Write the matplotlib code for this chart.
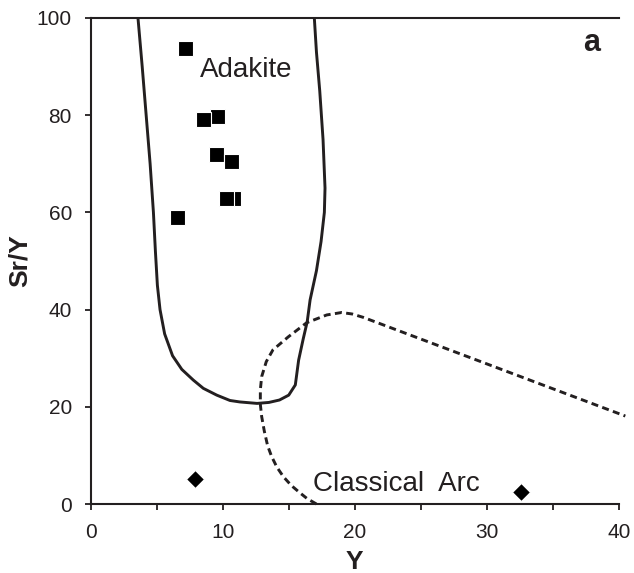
import matplotlib
matplotlib.use("Agg")
import matplotlib.pyplot as plt
from matplotlib.ticker import MultipleLocator

plt.rcParams['font.family'] = ['Liberation Sans', 'DejaVu Sans']

INK = '#231f20'

# Adakite samples (squares), drawn back to front
adakite_y = [10.8, 10.25, 9.55, 8.53, 9.49, 10.63, 7.14, 6.52]
adakite_sry = [62.9, 62.9, 79.8, 79.2, 72.0, 70.6, 93.8, 59.1]

# Classical arc samples (diamonds)
arc_y = [7.9, 32.6]
arc_sry = [5.1, 2.5]

# Adakite field boundary (solid)
adakite_field_x = [3.58, 3.9, 4.2, 4.5, 4.75, 4.9, 5.05, 5.25, 5.6, 6.2, 6.9, 7.77,
                   8.53, 9.55, 10.55, 11.3, 12.6, 13.5, 14.3, 15.0, 15.5, 15.75,
                   16.1, 16.4, 16.62, 17.1, 17.45, 17.7, 17.75, 17.6, 17.35, 17.1, 16.94]
adakite_field_y = [100, 90, 80, 70, 60, 52, 45, 40, 35, 30.5, 27.7, 25.5,
                   23.8, 22.4, 21.3, 21.0, 20.7, 20.9, 21.4, 22.4, 24.5, 29.6,
                   34.0, 37.5, 42.0, 48.0, 54.0, 60.0, 65.0, 75.0, 85.0, 93.0, 100]

# Classical arc field boundary (dashed)
arc_field_x = [17.1, 16.4, 15.85, 15.2, 14.6, 14.1, 13.7, 13.4, 13.15, 12.95, 12.85,
               12.85, 12.95, 13.3, 13.8, 14.97, 16.36, 17.88, 19.0, 19.8, 20.65, 40.5]
arc_field_y = [0.0, 1.1, 2.3, 3.8, 5.6, 7.6, 9.8, 12.0, 15.0, 18.0, 20.5,
               23.5, 26.2, 29.3, 31.7, 34.4, 37.3, 38.9, 39.4, 39.1, 38.4, 18.1]

fig = plt.figure(figsize=(6.34, 5.73), dpi=100)
ax = fig.add_axes([0.1431, 0.1204, 0.8328, 0.8482])

ax.plot(adakite_field_x, adakite_field_y, color=INK, lw=2.1,
        solid_joinstyle='round', solid_capstyle='butt')
ax.plot(arc_field_x, arc_field_y, color=INK, lw=2.1, dashes=(2.4, 1.5),
        clip_on=False)

ax.plot(adakite_y, adakite_sry, ls='none', marker='s', ms=10.8, mfc='black',
        mec='white', mew=0.8)
ax.plot(arc_y, arc_sry, ls='none', marker='D', ms=9.5, mfc='black',
        mec='white', mew=0.8)

ax.text(8.28, 89.4, 'Adakite', fontsize=20, ha='left', va='center', color=INK)
ax.text(16.85, 4.1, 'Classical  Arc', fontsize=20, ha='left', va='center', color=INK)
ax.text(37.95, 94.8, 'a', fontsize=22, fontweight='bold', ha='center', va='center',
        color=INK)

ax.set_xlim(0, 40)
ax.set_ylim(0, 100)
ax.xaxis.set_major_locator(MultipleLocator(10))
ax.xaxis.set_minor_locator(MultipleLocator(5))
ax.yaxis.set_major_locator(MultipleLocator(20))
ax.tick_params(axis='both', which='both', direction='out', length=4.5, width=1.3,
               labelsize=15, color=INK, labelcolor=INK)
ax.tick_params(axis='x', which='both', pad=9.5)
ax.tick_params(axis='y', which='both', pad=9)

ax.spines['right'].set_visible(False)
for s in ('left', 'top', 'bottom'):
    ax.spines[s].set_linewidth(1.5)
    ax.spines[s].set_color(INK)

ax.set_xlabel('Y', fontsize=19, fontweight='bold', color=INK)
ax.set_ylabel('Sr/Y', fontsize=19, fontweight='bold', color=INK)
ax.xaxis.set_label_coords(0.5, -0.0947)
ax.yaxis.set_label_coords(-0.111, 0.5)

fig.savefig('out.png', dpi=100)
